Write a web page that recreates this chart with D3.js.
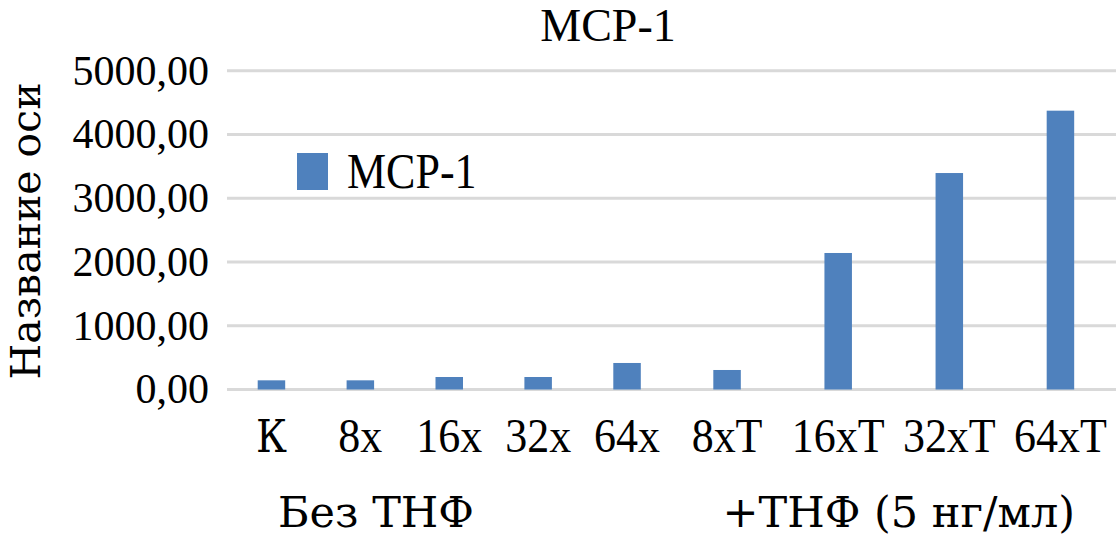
<!DOCTYPE html>
<html>
<head>
<meta charset="utf-8">
<script src="https://cdn.jsdelivr.net/npm/d3@7"></script>
<style>
  html, body { margin: 0; padding: 0; background: #fff; }
  text { font-family: "Liberation Serif", serif; fill: #000; }
  text.cyr { font-family: "DejaVu Serif", "Liberation Serif", serif; }
</style>
</head>
<body>
<svg id="chart" width="1116" height="544"></svg>
<script>
// ---- data ----
const groups = ["Без ТНФ", "+ТНФ (5 нг/мл)"];
const groupCategories = [["К", "8x", "16x", "32x", "64x"], ["8xT", "16xT", "32xT", "64xT"]];
const values = [[144, 144, 196, 196, 416], [306, 2141, 3395, 4373]];
const yTicks = [0, 1000, 2000, 3000, 4000, 5000];
const seriesName = "MCP-1";
const chartTitle = "MCP-1";
const yAxisTitle = "Название оси";

// ---- layout ----
const svg = d3.select("#chart");
const plot = { left: 227, right: 1116, top: 70.7, bottom: 389.5 };
const barColor = "#4F81BD";
const gridColor = "#D9D9D9";
const barW = 27.5;
const isCyr = s => /[\u0400-\u04FF]/.test(s);

const y = d3.scaleLinear().domain([0, 5000]).range([plot.bottom, plot.top]);
const xGroup = d3.scaleBand().domain(groups).range([plot.left, plot.right]).padding(0);

// gridlines
svg.append("g").selectAll("line").data(yTicks).join("line")
  .attr("x1", plot.left).attr("x2", plot.right)
  .attr("y1", d => y(d)).attr("y2", d => y(d))
  .attr("stroke", gridColor).attr("stroke-width", 3);

// y tick labels
const fmt = d => d3.format(".2f")(d).replace(".", ",");
svg.append("g").selectAll("text").data(yTicks).join("text")
  .attr("x", 209).attr("y", d => y(d))
  .attr("dy", "0.33em")
  .attr("text-anchor", "end")
  .attr("font-size", 42)
  .text(fmt);

// bars and category labels per group
groups.forEach((g, gi) => {
  const cats = groupCategories[gi];
  const x = d3.scaleBand().domain(cats)
    .range([xGroup(g), xGroup(g) + xGroup.bandwidth()]).padding(0);
  const data = cats.map((c, i) => ({ c, v: values[gi][i] }));
  const gg = svg.append("g");
  gg.selectAll("rect").data(data).join("rect")
    .attr("x", d => x(d.c) + x.bandwidth() / 2 - barW / 2)
    .attr("width", barW)
    .attr("y", d => y(d.v))
    .attr("height", d => y(0) - y(d.v))
    .attr("fill", barColor);
  gg.selectAll("text").data(data).join("text")
    .attr("class", d => isCyr(d.c) ? "cyr" : null)
    .attr("transform", d => `translate(${x(d.c) + x.bandwidth() / 2},452) scale(1,1.1)`)
    .attr("text-anchor", "middle")
    .attr("font-size", d => isCyr(d.c) ? 40 : 44)
    .text(d => d.c);
  // group label
  svg.append("text")
    .attr("class", "cyr")
    .attr("transform", `translate(${xGroup(g) + 51},527)`)
    .attr("text-anchor", "start")
    .attr("font-size", 43)
    .text(g);
});

// title
svg.append("text")
  .attr("x", 608).attr("y", 41)
  .attr("text-anchor", "middle")
  .attr("font-size", 46)
  .text(chartTitle);

// legend
svg.append("rect").attr("x", 297).attr("y", 153).attr("width", 31).attr("height", 37).attr("fill", barColor);
svg.append("text")
  .attr("transform", "translate(347,188) scale(1,1.13)")
  .attr("font-size", 44)
  .text(seriesName);

// y axis title
svg.append("text")
  .attr("class", "cyr")
  .attr("transform", "translate(40,231) rotate(-90)")
  .attr("text-anchor", "middle")
  .attr("font-size", 41)
  .text(yAxisTitle);
</script>
</body>
</html>
